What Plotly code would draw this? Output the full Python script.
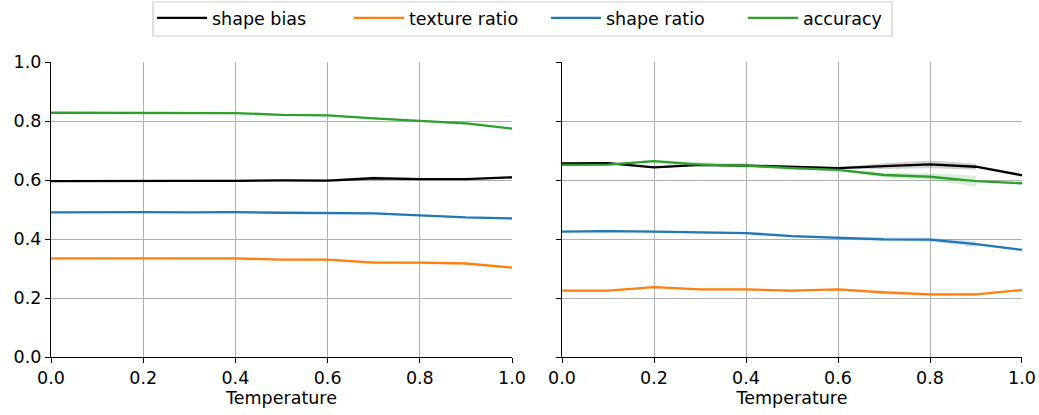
import plotly.graph_objects as go

temps = [0.0, 0.1, 0.2, 0.3, 0.4, 0.5, 0.6, 0.7, 0.8, 0.9, 1.0]
series_names = ["shape bias", "texture ratio", "shape ratio", "accuracy"]
colors = ["#000000", "#ff7f0e", "#1f77b4", "#2ca02c"]
band_colors = ["rgba(0,0,0,0.18)", "rgba(255,127,14,0.18)", "rgba(31,119,180,0.18)", "rgba(44,160,44,0.18)"]

# Left panel
left_shape_bias = [0.596, 0.597, 0.597, 0.597, 0.597, 0.599, 0.598, 0.606, 0.603, 0.603, 0.609]
left_texture_ratio = [0.334, 0.334, 0.334, 0.334, 0.334, 0.330, 0.330, 0.320, 0.320, 0.317, 0.303]
left_shape_ratio = [0.490, 0.491, 0.491, 0.490, 0.491, 0.489, 0.487, 0.487, 0.480, 0.473, 0.470]
left_accuracy = [0.828, 0.828, 0.829, 0.828, 0.827, 0.821, 0.819, 0.809, 0.801, 0.792, 0.774]
left_spread_bias = [0.002, 0.002, 0.002, 0.003, 0.004, 0.003, 0.004, 0.006, 0.003, 0.003, 0.003]
left_spread_texture = [0.002, 0.002, 0.002, 0.002, 0.003, 0.002, 0.003, 0.005, 0.003, 0.003, 0.002]
left_spread_shape = [0.002, 0.002, 0.002, 0.002, 0.004, 0.002, 0.002, 0.003, 0.003, 0.002, 0.002]
left_spread_acc = [0.002, 0.002, 0.002, 0.002, 0.002, 0.002, 0.002, 0.003, 0.004, 0.004, 0.002]

# Right panel
right_shape_bias = [0.656, 0.657, 0.643, 0.651, 0.649, 0.645, 0.640, 0.647, 0.653, 0.645, 0.616]
right_texture_ratio = [0.225, 0.225, 0.237, 0.229, 0.229, 0.225, 0.229, 0.219, 0.212, 0.212, 0.227]
right_shape_ratio = [0.425, 0.427, 0.425, 0.423, 0.420, 0.410, 0.404, 0.399, 0.398, 0.383, 0.363]
right_accuracy = [0.651, 0.652, 0.664, 0.652, 0.649, 0.640, 0.634, 0.617, 0.611, 0.596, 0.589]
right_spread_bias = [0.002, 0.002, 0.003, 0.003, 0.004, 0.003, 0.003, 0.010, 0.013, 0.010, None]
right_spread_texture = [0.002, 0.002, 0.003, 0.003, 0.003, 0.003, 0.003, 0.007, 0.006, 0.005, None]
right_spread_shape = [0.002, 0.002, 0.003, 0.003, 0.004, 0.004, 0.004, 0.007, 0.007, 0.010, None]
right_spread_acc = [0.003, 0.003, 0.005, 0.008, 0.008, 0.004, 0.004, 0.008, 0.012, 0.018, None]

panels = [
    ([left_shape_bias, left_texture_ratio, left_shape_ratio, left_accuracy],
     [left_spread_bias, left_spread_texture, left_spread_shape, left_spread_acc]),
    ([right_shape_bias, right_texture_ratio, right_shape_ratio, right_accuracy],
     [right_spread_bias, right_spread_texture, right_spread_shape, right_spread_acc]),
]

fig = go.Figure()
for p, (vals, spreads) in enumerate(panels):
    xa = "x" if p == 0 else "x2"
    ya = "y" if p == 0 else "y2"
    for i in range(4):
        xs = [t for t, s in zip(temps, spreads[i]) if s is not None]
        up = [v + s for v, s in zip(vals[i], spreads[i]) if s is not None]
        lo = [v - s for v, s in zip(vals[i], spreads[i]) if s is not None]
        fig.add_trace(go.Scatter(x=xs, y=up, mode="lines", line=dict(width=0),
                                 showlegend=False, hoverinfo="skip", xaxis=xa, yaxis=ya))
        fig.add_trace(go.Scatter(x=xs, y=lo, mode="lines", line=dict(width=0),
                                 fill="tonexty", fillcolor=band_colors[i],
                                 showlegend=False, hoverinfo="skip", xaxis=xa, yaxis=ya))
    for i in range(4):
        fig.add_trace(go.Scatter(x=temps, y=vals[i], mode="lines", name=series_names[i],
                                 line=dict(color=colors[i], width=2.3),
                                 showlegend=(p == 0), xaxis=xa, yaxis=ya))

tickvals = [0.0, 0.2, 0.4, 0.6, 0.8, 1.0]
ticktext = ["0.0", "0.2", "0.4", "0.6", "0.8", "1.0"]
FS = 17.5
common_x = dict(range=[0, 1], tickvals=tickvals, ticktext=ticktext, showgrid=True,
                gridcolor="#b0b0b0", gridwidth=1, showline=True, linecolor="black",
                linewidth=1.3, ticks="outside", ticklen=5, tickcolor="black", tickwidth=1.2,
                zeroline=False, title=dict(text="Temperature", standoff=4, font=dict(size=FS)),
                tickfont=dict(size=FS), automargin=False)
common_y = dict(range=[0, 1], tickvals=tickvals, ticktext=ticktext, showgrid=True,
                gridcolor="#b0b0b0", gridwidth=1, showline=True, linecolor="black",
                linewidth=1.3, ticks="outside", ticklen=5, tickcolor="black", tickwidth=1.2,
                zeroline=False, tickfont=dict(size=FS), automargin=False)

fig.update_layout(
    width=1039, height=415,
    margin=dict(l=51, r=17, t=62, b=58),
    paper_bgcolor="white", plot_bgcolor="white",
    font=dict(family="DejaVu Sans", size=FS, color="black"),
    xaxis=dict(common_x, domain=[0, 0.4748], anchor="y"),
    xaxis2=dict(common_x, domain=[0.5263, 1], anchor="y2"),
    yaxis=dict(common_y, anchor="x"),
    yaxis2=dict(common_y, anchor="x2", showticklabels=False),
    legend=dict(orientation="h", x=152 / 1039, xanchor="left", xref="container",
                y=1.0, yanchor="top", yref="container",
                borderwidth=0, bgcolor="rgba(0,0,0,0)",
                font=dict(size=FS), traceorder="normal", itemwidth=50,
                entrywidth=132, entrywidthmode="pixels"),
    shapes=[dict(type="rect", xref="paper", yref="paper",
                 x0=(153 - 51) / 971, x1=(892 - 51) / 971,
                 y0=(357 - 36) / 295, y1=(357 - 2) / 295,
                 line=dict(color="#cccccc", width=1.2), fillcolor="rgba(0,0,0,0)",
                 layer="above")],
    showlegend=True,
)

fig.write_html("out.html")
